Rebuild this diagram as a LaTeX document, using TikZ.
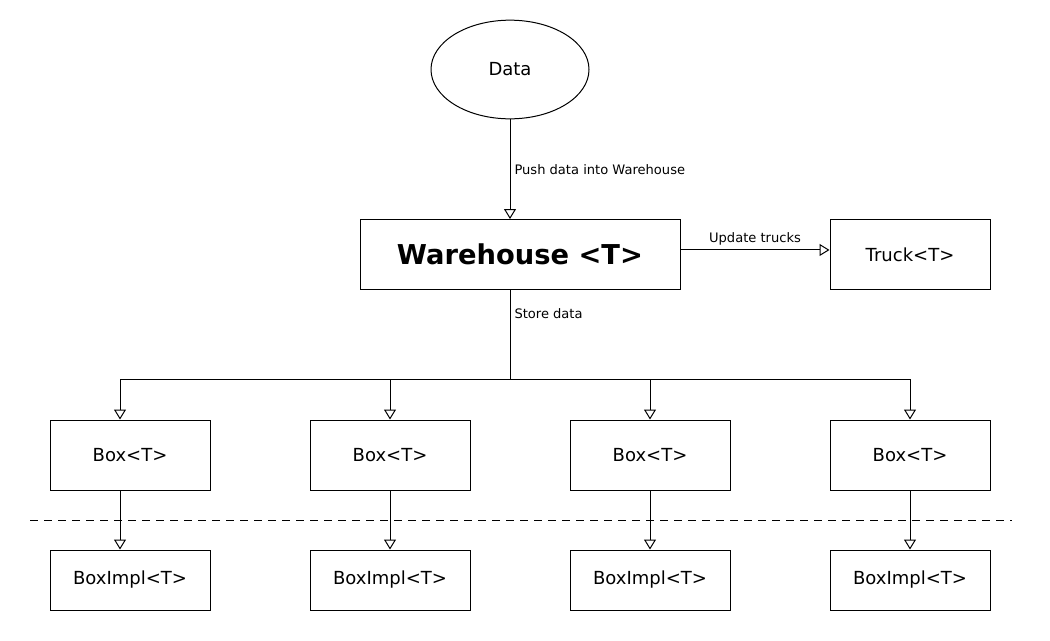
\documentclass[tikz,border=0pt]{standalone}
\usepackage{fontspec}
\setmainfont{DejaVu Sans}
\usepackage{tikz}
\usetikzlibrary{arrows.meta}
\usetikzlibrary{shapes.geometric}

\begin{document}
\begin{tikzpicture}[x=0.75pt,y=-0.75pt,line width=0.75pt,
        >={Triangle[open,length=7.5pt,width=9pt]},
        box/.style={draw,minimum width=120pt,minimum height=52.5pt,inner sep=0pt,font=\fontsize{13.5}{16}\selectfont},
        impl/.style={box,minimum height=45pt},
        lbl/.style={font=\fontsize{9.8}{12}\selectfont,inner sep=3pt}]
        \useasboundingbox(0,0)rectangle(1050,640);
        \node[draw,ellipse,minimum width=118.5pt,minimum height=74pt,inner sep=0pt,font=\fontsize{13.5}{16}\selectfont](data)at(510,69.5){Data};
        \node[box,minimum width=240pt,font=\bfseries\fontsize{20.5}{24}\selectfont](wh)at(520,254.5){Warehouse <T>};
        \node[box](truck)at(910,254.5){Truck<T>};
        \coordinate(split)at(510,379);
        \draw[->](data.south)--node[lbl,right]{Push data into Warehouse}(data.south|-wh.north);
        \draw[->]([yshift=3.4pt]wh.east)--node[lbl,above]{Update trucks}([yshift=3.4pt]truck.west);
        \draw(split|-wh.south)--node[lbl,pos=0.27,right]{Store data}(split);
        \foreach \i/\x/\s in {1/130/-7.5pt,2/390/0pt,3/650/0pt,4/910/0pt}{
            \node[box](box\i)at(\x,455){Box<T>};
            \node[impl](impl\i)at(\x,580){BoxImpl<T>};
            \draw[->](split)-|([xshift=\s]box\i.north);
            \draw[->]([xshift=\s]box\i.south)--([xshift=\s]impl\i.north);
        }
        \draw[dashed,dash pattern=on 6pt off 4.5pt](30,520)--(1012,520);
    \end{tikzpicture}
\end{document}
